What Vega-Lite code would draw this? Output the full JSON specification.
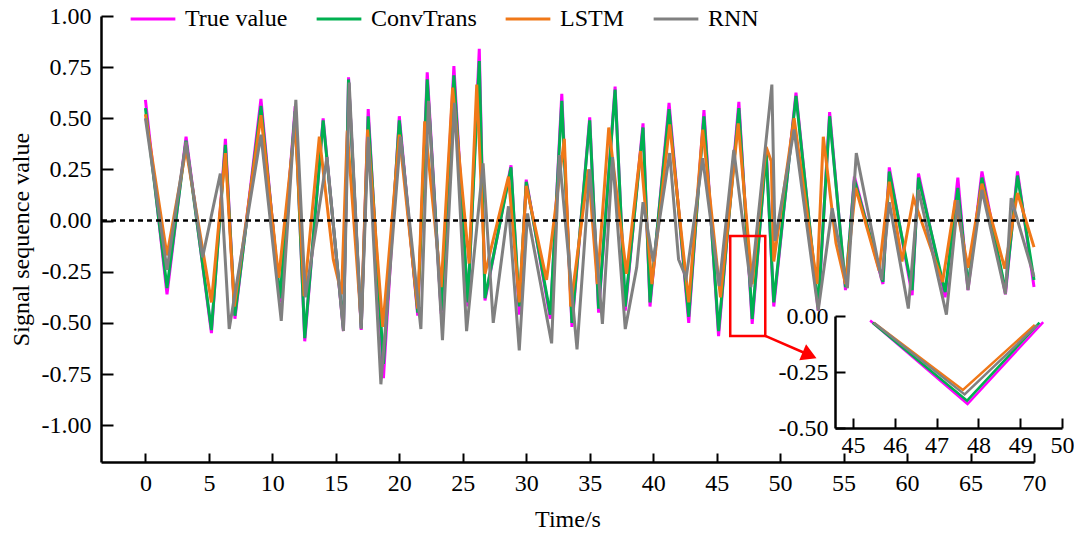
{
  "$schema": "https://vega.github.io/schema/vega-lite/v6.json",
  "width": 933,
  "height": 446,
  "autosize": {"type": "none"},
  "padding": {"left": 101, "top": 16, "right": 40, "bottom": 72},
  "config": {
    "view": {"stroke": null},
    "font": "Liberation Serif",
    "axis": {"grid": false, "domainColor": "black", "domainWidth": 2.5, "tickColor": "black", "tickWidth": 2, "labelColor": "black", "titleColor": "black", "labelFont": "Liberation Serif", "titleFont": "Liberation Serif", "labelFontSize": 24, "titleFontSize": 24, "titleFontWeight": "normal", "labelOverlap": false, "labelBound": false, "labelFlush": false},
    "legend": {"labelFont": "Liberation Serif", "labelFontSize": 24, "labelColor": "black", "padding": 0}
  },
  "datasets": {
    "main": [
      {"s":"True value","t":0,"v":0.59},{"s":"True value","t":1.7,"v":-0.36},{"s":"True value","t":3.2,"v":0.41},{"s":"True value","t":5.2,"v":-0.55},{"s":"True value","t":6.3,"v":0.40},{"s":"True value","t":7.05,"v":-0.48},{"s":"True value","t":9.1,"v":0.595},{"s":"True value","t":10.6,"v":-0.40},{"s":"True value","t":11.8,"v":0.56},{"s":"True value","t":12.55,"v":-0.59},{"s":"True value","t":14.0,"v":0.50},{"s":"True value","t":15.6,"v":-0.54},{"s":"True value","t":16.0,"v":0.70},{"s":"True value","t":17.0,"v":-0.535},{"s":"True value","t":17.55,"v":0.545},{"s":"True value","t":18.75,"v":-0.77},{"s":"True value","t":20.0,"v":0.51},{"s":"True value","t":21.45,"v":-0.465},{"s":"True value","t":22.2,"v":0.725},{"s":"True value","t":23.3,"v":-0.455},{"s":"True value","t":24.3,"v":0.755},{"s":"True value","t":25.4,"v":-0.42},{"s":"True value","t":26.3,"v":0.84},{"s":"True value","t":26.75,"v":-0.39},{"s":"True value","t":28.8,"v":0.27},{"s":"True value","t":29.45,"v":-0.46},{"s":"True value","t":30.0,"v":0.20},{"s":"True value","t":31.9,"v":-0.48},{"s":"True value","t":32.8,"v":0.62},{"s":"True value","t":33.6,"v":-0.52},{"s":"True value","t":35.0,"v":0.505},{"s":"True value","t":35.7,"v":-0.45},{"s":"True value","t":37.0,"v":0.655},{"s":"True value","t":37.8,"v":-0.44},{"s":"True value","t":39.2,"v":0.475},{"s":"True value","t":39.75,"v":-0.42},{"s":"True value","t":41.25,"v":0.575},{"s":"True value","t":42.8,"v":-0.50},{"s":"True value","t":44.0,"v":0.54},{"s":"True value","t":45.15,"v":-0.565},{"s":"True value","t":46.75,"v":0.58},{"s":"True value","t":47.8,"v":-0.505},{"s":"True value","t":48.9,"v":0.35},{"s":"True value","t":49.5,"v":-0.42},{"s":"True value","t":51.25,"v":0.625},{"s":"True value","t":53.0,"v":-0.44},{"s":"True value","t":53.9,"v":0.53},{"s":"True value","t":55.15,"v":-0.34},{"s":"True value","t":55.85,"v":0.215},{"s":"True value","t":58.1,"v":-0.31},{"s":"True value","t":58.6,"v":0.26},{"s":"True value","t":60.4,"v":-0.365},{"s":"True value","t":60.9,"v":0.23},{"s":"True value","t":63.0,"v":-0.375},{"s":"True value","t":64.0,"v":0.21},{"s":"True value","t":64.8,"v":-0.34},{"s":"True value","t":65.9,"v":0.24},{"s":"True value","t":67.75,"v":-0.36},{"s":"True value","t":68.7,"v":0.24},{"s":"True value","t":70.0,"v":-0.325},
      {"s":"ConvTrans","t":0,"v":0.55},{"s":"ConvTrans","t":1.7,"v":-0.33},{"s":"ConvTrans","t":3.2,"v":0.39},{"s":"ConvTrans","t":5.2,"v":-0.535},{"s":"ConvTrans","t":6.3,"v":0.37},{"s":"ConvTrans","t":7.05,"v":-0.465},{"s":"ConvTrans","t":9.1,"v":0.56},{"s":"ConvTrans","t":10.6,"v":-0.38},{"s":"ConvTrans","t":11.8,"v":0.535},{"s":"ConvTrans","t":12.55,"v":-0.575},{"s":"ConvTrans","t":14.0,"v":0.49},{"s":"ConvTrans","t":15.6,"v":-0.53},{"s":"ConvTrans","t":16.0,"v":0.69},{"s":"ConvTrans","t":17.0,"v":-0.525},{"s":"ConvTrans","t":17.55,"v":0.51},{"s":"ConvTrans","t":18.75,"v":-0.70},{"s":"ConvTrans","t":20.0,"v":0.49},{"s":"ConvTrans","t":21.45,"v":-0.45},{"s":"ConvTrans","t":22.2,"v":0.69},{"s":"ConvTrans","t":23.3,"v":-0.44},{"s":"ConvTrans","t":24.3,"v":0.71},{"s":"ConvTrans","t":25.4,"v":-0.40},{"s":"ConvTrans","t":26.3,"v":0.78},{"s":"ConvTrans","t":26.75,"v":-0.38},{"s":"ConvTrans","t":28.8,"v":0.26},{"s":"ConvTrans","t":29.45,"v":-0.42},{"s":"ConvTrans","t":30.0,"v":0.19},{"s":"ConvTrans","t":31.9,"v":-0.46},{"s":"ConvTrans","t":32.8,"v":0.585},{"s":"ConvTrans","t":33.6,"v":-0.50},{"s":"ConvTrans","t":35.0,"v":0.49},{"s":"ConvTrans","t":35.7,"v":-0.43},{"s":"ConvTrans","t":37.0,"v":0.64},{"s":"ConvTrans","t":37.8,"v":-0.42},{"s":"ConvTrans","t":39.2,"v":0.455},{"s":"ConvTrans","t":39.75,"v":-0.40},{"s":"ConvTrans","t":41.25,"v":0.545},{"s":"ConvTrans","t":42.8,"v":-0.47},{"s":"ConvTrans","t":44.0,"v":0.51},{"s":"ConvTrans","t":45.15,"v":-0.54},{"s":"ConvTrans","t":46.75,"v":0.55},{"s":"ConvTrans","t":47.8,"v":-0.48},{"s":"ConvTrans","t":48.9,"v":0.33},{"s":"ConvTrans","t":49.5,"v":-0.40},{"s":"ConvTrans","t":51.25,"v":0.61},{"s":"ConvTrans","t":53.0,"v":-0.42},{"s":"ConvTrans","t":53.9,"v":0.51},{"s":"ConvTrans","t":55.15,"v":-0.325},{"s":"ConvTrans","t":55.85,"v":0.20},{"s":"ConvTrans","t":58.1,"v":-0.30},{"s":"ConvTrans","t":58.6,"v":0.24},{"s":"ConvTrans","t":60.4,"v":-0.34},{"s":"ConvTrans","t":60.9,"v":0.21},{"s":"ConvTrans","t":63.0,"v":-0.35},{"s":"ConvTrans","t":64.0,"v":0.16},{"s":"ConvTrans","t":64.8,"v":-0.32},{"s":"ConvTrans","t":65.9,"v":0.21},{"s":"ConvTrans","t":67.75,"v":-0.34},{"s":"ConvTrans","t":68.7,"v":0.22},{"s":"ConvTrans","t":70.0,"v":-0.29},
      {"s":"LSTM","t":0,"v":0.52},{"s":"LSTM","t":1.7,"v":-0.17},{"s":"LSTM","t":3.2,"v":0.35},{"s":"LSTM","t":5.2,"v":-0.40},{"s":"LSTM","t":6.3,"v":0.33},{"s":"LSTM","t":7.0,"v":-0.42},{"s":"LSTM","t":9.1,"v":0.515},{"s":"LSTM","t":10.5,"v":-0.28},{"s":"LSTM","t":11.8,"v":0.48},{"s":"LSTM","t":12.5,"v":-0.37},{"s":"LSTM","t":13.7,"v":0.41},{"s":"LSTM","t":14.8,"v":-0.19},{"s":"LSTM","t":15.45,"v":-0.36},{"s":"LSTM","t":15.9,"v":0.44},{"s":"LSTM","t":17.0,"v":-0.50},{"s":"LSTM","t":17.5,"v":0.445},{"s":"LSTM","t":18.7,"v":-0.52},{"s":"LSTM","t":20.0,"v":0.42},{"s":"LSTM","t":21.45,"v":-0.43},{"s":"LSTM","t":22.0,"v":0.485},{"s":"LSTM","t":23.3,"v":-0.325},{"s":"LSTM","t":24.2,"v":0.65},{"s":"LSTM","t":25.5,"v":-0.21},{"s":"LSTM","t":26.1,"v":0.665},{"s":"LSTM","t":26.75,"v":-0.26},{"s":"LSTM","t":28.6,"v":0.215},{"s":"LSTM","t":29.45,"v":-0.40},{"s":"LSTM","t":30.0,"v":0.17},{"s":"LSTM","t":31.6,"v":-0.29},{"s":"LSTM","t":33.0,"v":0.40},{"s":"LSTM","t":33.5,"v":-0.42},{"s":"LSTM","t":34.9,"v":0.25},{"s":"LSTM","t":35.6,"v":-0.31},{"s":"LSTM","t":36.5,"v":0.455},{"s":"LSTM","t":37.9,"v":-0.26},{"s":"LSTM","t":39.0,"v":0.34},{"s":"LSTM","t":39.9,"v":-0.31},{"s":"LSTM","t":41.3,"v":0.47},{"s":"LSTM","t":42.8,"v":-0.40},{"s":"LSTM","t":43.9,"v":0.445},{"s":"LSTM","t":45.3,"v":-0.375},{"s":"LSTM","t":46.7,"v":0.475},{"s":"LSTM","t":47.8,"v":-0.31},{"s":"LSTM","t":48.9,"v":0.36},{"s":"LSTM","t":49.3,"v":0.29},{"s":"LSTM","t":49.5,"v":-0.20},{"s":"LSTM","t":51.1,"v":0.50},{"s":"LSTM","t":52.9,"v":-0.31},{"s":"LSTM","t":53.4,"v":0.41},{"s":"LSTM","t":54.4,"v":-0.11},{"s":"LSTM","t":55.15,"v":-0.31},{"s":"LSTM","t":55.95,"v":0.16},{"s":"LSTM","t":57.8,"v":-0.245},{"s":"LSTM","t":58.6,"v":0.19},{"s":"LSTM","t":59.6,"v":-0.20},{"s":"LSTM","t":60.5,"v":0.11},{"s":"LSTM","t":62.8,"v":-0.30},{"s":"LSTM","t":63.8,"v":0.10},{"s":"LSTM","t":64.8,"v":-0.23},{"s":"LSTM","t":65.9,"v":0.18},{"s":"LSTM","t":67.7,"v":-0.235},{"s":"LSTM","t":68.7,"v":0.135},{"s":"LSTM","t":70.0,"v":-0.13},
      {"s":"RNN","t":0,"v":0.50},{"s":"RNN","t":1.7,"v":-0.24},{"s":"RNN","t":3.2,"v":0.385},{"s":"RNN","t":4.5,"v":-0.18},{"s":"RNN","t":5.9,"v":0.23},{"s":"RNN","t":6.6,"v":-0.53},{"s":"RNN","t":9.1,"v":0.42},{"s":"RNN","t":10.7,"v":-0.49},{"s":"RNN","t":11.85,"v":0.59},{"s":"RNN","t":12.6,"v":-0.375},{"s":"RNN","t":14.3,"v":0.31},{"s":"RNN","t":15.6,"v":-0.54},{"s":"RNN","t":16.05,"v":0.675},{"s":"RNN","t":17.0,"v":-0.53},{"s":"RNN","t":17.55,"v":0.41},{"s":"RNN","t":18.55,"v":-0.80},{"s":"RNN","t":20.1,"v":0.41},{"s":"RNN","t":21.7,"v":-0.53},{"s":"RNN","t":22.3,"v":0.585},{"s":"RNN","t":23.4,"v":-0.585},{"s":"RNN","t":24.35,"v":0.575},{"s":"RNN","t":25.3,"v":-0.54},{"s":"RNN","t":26.6,"v":0.28},{"s":"RNN","t":27.4,"v":-0.50},{"s":"RNN","t":28.6,"v":0.07},{"s":"RNN","t":29.45,"v":-0.635},{"s":"RNN","t":30.1,"v":0.035},{"s":"RNN","t":32.0,"v":-0.60},{"s":"RNN","t":32.6,"v":0.32},{"s":"RNN","t":34.0,"v":-0.63},{"s":"RNN","t":35.0,"v":0.25},{"s":"RNN","t":36.0,"v":-0.505},{"s":"RNN","t":36.8,"v":0.31},{"s":"RNN","t":37.8,"v":-0.53},{"s":"RNN","t":38.7,"v":-0.23},{"s":"RNN","t":39.2,"v":0.09},{"s":"RNN","t":40.0,"v":-0.20},{"s":"RNN","t":41.3,"v":0.33},{"s":"RNN","t":42.0,"v":-0.19},{"s":"RNN","t":42.6,"v":-0.28},{"s":"RNN","t":43.9,"v":0.305},{"s":"RNN","t":45.2,"v":-0.32},{"s":"RNN","t":46.35,"v":0.345},{"s":"RNN","t":47.7,"v":-0.325},{"s":"RNN","t":49.35,"v":0.665},{"s":"RNN","t":49.6,"v":-0.10},{"s":"RNN","t":51.1,"v":0.445},{"s":"RNN","t":53.0,"v":-0.44},{"s":"RNN","t":54.1,"v":0.06},{"s":"RNN","t":55.3,"v":-0.33},{"s":"RNN","t":56.0,"v":0.33},{"s":"RNN","t":58.0,"v":-0.29},{"s":"RNN","t":58.6,"v":0.09},{"s":"RNN","t":60.1,"v":-0.43},{"s":"RNN","t":60.9,"v":0.15},{"s":"RNN","t":63.1,"v":-0.46},{"s":"RNN","t":64.0,"v":0.10},{"s":"RNN","t":64.8,"v":-0.34},{"s":"RNN","t":65.9,"v":0.15},{"s":"RNN","t":67.75,"v":-0.36},{"s":"RNN","t":68.2,"v":0.11},{"s":"RNN","t":70.0,"v":-0.275}
    ],
    "inset": [
      {"s":"True value","t":45.41,"v":-0.02},{"s":"True value","t":47.74,"v":-0.393},{"s":"True value","t":49.55,"v":-0.027},
      {"s":"ConvTrans","t":45.47,"v":-0.03},{"s":"ConvTrans","t":47.73,"v":-0.378},{"s":"ConvTrans","t":49.46,"v":-0.03},
      {"s":"LSTM","t":45.5,"v":-0.03},{"s":"LSTM","t":47.63,"v":-0.33},{"s":"LSTM","t":49.35,"v":-0.04},
      {"s":"RNN","t":45.5,"v":-0.03},{"s":"RNN","t":47.67,"v":-0.35},{"s":"RNN","t":49.41,"v":-0.04}
    ]
  },
  "layer": [
    {
      "layer": [
        {
          "data": {"name": "main"},
          "mark": {"type": "line", "strokeWidth": 3},
          "encoding": {
            "x": {"field": "t", "type": "quantitative", "scale": {"domain": [-3.5, 70], "nice": false, "zero": false},
                  "axis": {"orient": "bottom", "values": [0,5,10,15,20,25,30,35,40,45,50,55,60,65,70], "tickSize": -9, "labelPadding": 18, "title": "Time/s", "titlePadding": 12}},
            "y": {"field": "v", "type": "quantitative", "scale": {"domain": [-1.18, 1.0], "nice": false, "zero": false},
                  "axis": {"orient": "left", "values": [-1,-0.75,-0.5,-0.25,0,0.25,0.5,0.75,1], "format": ".2f", "labelExpr": "replace(datum.label, '\u2212', '-')", "tickSize": -12, "labelPadding": 22, "title": "Signal sequence value", "titlePadding": 8}},
            "color": {"field": "s", "type": "nominal",
                      "scale": {"domain": ["True value", "ConvTrans", "LSTM", "RNN"], "range": ["#FF00FF", "#00B050", "#F07818", "#808080"]},
                      "legend": {"title": null, "orient": "none", "legendX": 28, "legendY": -21, "direction": "horizontal", "symbolType": "stroke", "symbolSize": 2000, "symbolStrokeWidth": 3, "labelOffset": 8, "columnPadding": 22}}
          }
        },
        {
          "data": {"values": [{"v": 0}]},
          "mark": {"type": "rule", "color": "black", "strokeWidth": 2.5, "strokeDash": [5, 4]},
          "encoding": {"y": {"field": "v", "type": "quantitative"}}
        },
        {
          "data": {"values": [{"t": 46.07, "t2": 48.83, "v": -0.075, "v2": -0.564}]},
          "mark": {"type": "rect", "fill": null, "stroke": "#FF0000", "strokeWidth": 2.5},
          "encoding": {"x": {"field": "t", "type": "quantitative"}, "x2": {"field": "t2"}, "y": {"field": "v", "type": "quantitative"}, "y2": {"field": "v2"}}
        },
        {
          "data": {"values": [{"t": 48.83, "t2": 52.3, "v": -0.564, "v2": -0.657}]},
          "mark": {"type": "rule", "color": "#FF0000", "strokeWidth": 2.5},
          "encoding": {"x": {"field": "t", "type": "quantitative"}, "x2": {"field": "t2"}, "y": {"field": "v", "type": "quantitative"}, "y2": {"field": "v2"}}
        },
        {
          "data": {"values": [{"t": 52.32, "v": -0.658}]},
          "mark": {"type": "point", "shape": "triangle-right", "filled": true, "color": "#FF0000", "size": 300, "angle": 23, "opacity": 1},
          "encoding": {"x": {"field": "t", "type": "quantitative"}, "y": {"field": "v", "type": "quantitative"}}
        }
      ]
    },
    {
      "data": {"name": "inset"},
      "mark": {"type": "line", "strokeWidth": 2.5},
      "encoding": {
        "x": {"field": "t", "type": "quantitative", "scale": {"domain": [44.57, 50], "range": [734, 961], "nice": false, "zero": false},
              "axis": {"orient": "bottom", "offset": -34, "values": [45,46,47,48,49,50], "tickSize": -10, "labelPadding": 15, "title": null}},
        "y": {"field": "v", "type": "quantitative", "scale": {"domain": [-0.5, 0], "range": [412, 300], "nice": false, "zero": false},
              "axis": {"orient": "left", "offset": -734, "values": [0, -0.25, -0.5], "format": ".2f", "labelExpr": "replace(datum.label, '\u2212', '-')", "tickSize": -10, "labelPadding": 17, "title": null}},
        "color": {"field": "s", "type": "nominal", "scale": {"domain": ["True value", "ConvTrans", "LSTM", "RNN"], "range": ["#FF00FF", "#00B050", "#F07818", "#808080"]}}
      }
    }
  ],
  "resolve": {"scale": {"x": "independent", "y": "independent"}, "axis": {"x": "independent", "y": "independent"}}
}
